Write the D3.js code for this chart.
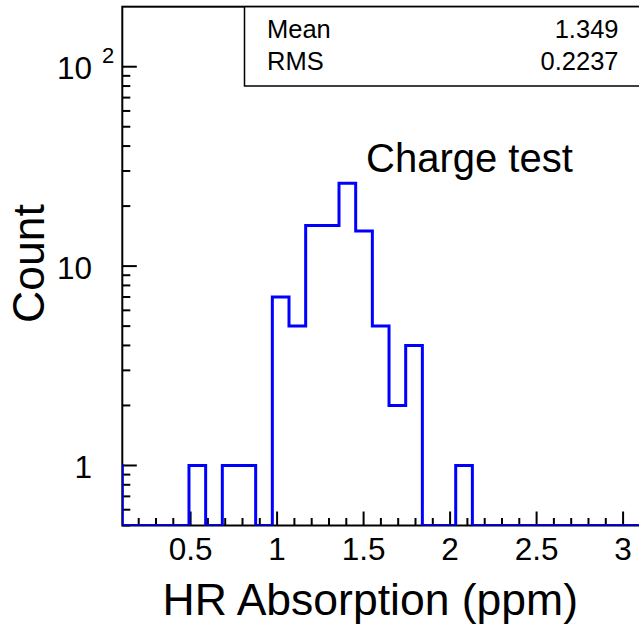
<!DOCTYPE html>
<html>
<head>
<meta charset="utf-8">
<script src="https://cdn.jsdelivr.net/npm/d3@7"></script>
<style>
  body { margin: 0; background: #fff; }
  svg { display: block; font-family: "Liberation Sans", Arial, sans-serif; }
</style>
</head>
<body>
<div id="chart"></div>
<script>
// histogram: first bin lies just left of the frame (only its edge shows)
var binStart = 0.1052 - 0.09636;
var binWidth = 0.09636;
var counts = [1,
  0, 0, 0, 0, 1, 0, 1, 1, 0, 7, 5, 16, 16, 26, 15, 5, 2, 4, 0, 0, 1,
  0, 0, 0, 0, 0, 0, 0, 0, 0, 0, 0];
var xMajor = [0.5, 1, 1.5, 2, 2.5, 3];
var xMajorLabels = ["0.5", "1", "1.5", "2", "2.5", "3"];
var yMajor = [1, 10, 100];
var statNames = ["Mean", "RMS"];
var statValues = ["1.349", "0.2237"];
var title = "Charge test";
var xTitle = "HR Absorption (ppm)";
var yTitle = "Count";

var width = 639, height = 625;
var fLeft = 122.3, fTop = 6.7, fBottom = 525.5;
var fRight = fLeft + 32 * 16.67;

var xMin = binStart + binWidth, xMax = xMin + 32 * binWidth;
var yMin = 0.5, yMax = 200;

var x = d3.scaleLinear().domain([xMin, xMax]).range([fLeft, fRight]);
var y = d3.scaleLog().domain([yMin, yMax]).range([fBottom, fTop]);

var svg = d3.select("#chart").append("svg")
  .attr("width", width).attr("height", height);

svg.append("defs").append("clipPath").attr("id", "frame")
  .append("rect").attr("x", fLeft).attr("y", fTop)
  .attr("width", fRight - fLeft).attr("height", fBottom - fTop);

// minor ticks
var xMinor = d3.range(2, 32).map(function(i) { return i / 10; })
  .filter(function(v) { return xMajor.indexOf(v) < 0 && v > xMin; });
var yMinor = [];
[0.1, 1, 10, 100].forEach(function(dec) {
  for (var m = 2; m <= 9; m++) {
    var v = dec * m;
    if (v >= yMin && v < yMax) yMinor.push(v);
  }
});

var ticks = svg.append("g").attr("stroke", "#000").attr("stroke-width", 2);
xMajor.forEach(function(v) {
  ticks.append("line").attr("x1", x(v)).attr("x2", x(v))
    .attr("y1", fBottom).attr("y2", fBottom - 14);
});
xMinor.forEach(function(v) {
  ticks.append("line").attr("x1", x(v)).attr("x2", x(v))
    .attr("y1", fBottom).attr("y2", fBottom - 7.5);
});
yMajor.forEach(function(v) {
  ticks.append("line").attr("x1", fLeft).attr("x2", fLeft + 14.5)
    .attr("y1", y(v)).attr("y2", y(v));
});
yMinor.forEach(function(v) {
  ticks.append("line").attr("x1", fLeft).attr("x2", fLeft + 8)
    .attr("y1", y(v)).attr("y2", y(v));
});

// frame
svg.append("rect").attr("x", fLeft).attr("y", fTop)
  .attr("width", fRight - fLeft).attr("height", fBottom - fTop)
  .attr("fill", "none").attr("stroke", "#000").attr("stroke-width", 2);

// histogram outline
var pts = [];
counts.forEach(function(c, i) {
  var x0 = x(binStart + i * binWidth), x1 = x(binStart + (i + 1) * binWidth);
  var yv = y(Math.max(c, yMin));
  pts.push([x0, yv], [x1, yv]);
});
pts.unshift([pts[0][0], fBottom]);
pts.push([pts[pts.length - 1][0], fBottom]);

svg.append("path")
  .attr("clip-path", "url(#frame)")
  .attr("d", d3.line()(pts))
  .attr("fill", "none").attr("stroke", "#0000ff")
  .attr("stroke-width", 3).attr("stroke-linejoin", "miter");

// tick labels
svg.selectAll(".xl").data(xMajor).enter().append("text")
  .attr("x", function(d) { return x(d); }).attr("y", 560)
  .attr("text-anchor", "middle").attr("font-size", 31.5)
  .text(function(d, i) { return xMajorLabels[i]; });

svg.append("text").attr("x", 92).attr("y", y(1) + 12.5)
  .attr("text-anchor", "end").attr("font-size", 31.5).text("1");
svg.append("text").attr("x", 92).attr("y", y(10) + 12.5)
  .attr("text-anchor", "end").attr("font-size", 31.5).text("10");
svg.append("text").attr("x", 92).attr("y", y(100) + 12.5)
  .attr("text-anchor", "end").attr("font-size", 31.5).text("10");
svg.append("text").attr("x", 102).attr("y", y(100) - 4)
  .attr("font-size", 22).text("2");

// axis titles
svg.append("text").attr("x", 578).attr("y", 615)
  .attr("text-anchor", "end").attr("font-size", 44.5).text(xTitle);
svg.append("text").attr("transform", "translate(43.5,323) rotate(-90)")
  .attr("font-size", 44.5).text(yTitle);

// title
svg.append("text").attr("x", 366).attr("y", 171.5)
  .attr("font-size", 40).text(title);

// stats box
svg.append("rect").attr("x", 244.5).attr("y", fTop)
  .attr("width", fRight - 244.5).attr("height", 86 - fTop)
  .attr("fill", "#fff").attr("stroke", "#000").attr("stroke-width", 1.5);
statNames.forEach(function(n, i) {
  svg.append("text").attr("x", 267).attr("y", 37.5 + i * 32.7)
    .attr("font-size", 25.5).text(n);
  svg.append("text").attr("x", 618.5).attr("y", 37.5 + i * 32.7)
    .attr("text-anchor", "end").attr("font-size", 25.5).text(statValues[i]);
});
</script>
</body>
</html>
